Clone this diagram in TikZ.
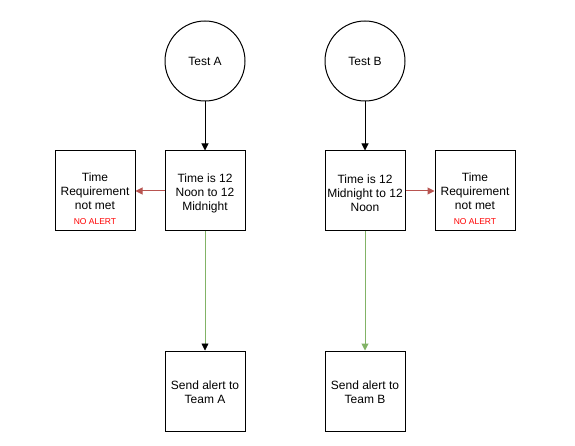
\documentclass[tikz,border=0pt]{standalone}
\usepackage{fontspec}
\setmainfont{Liberation Sans}
\usetikzlibrary{arrows.meta}
\definecolor{redline}{HTML}{B85450}
\definecolor{greenline}{HTML}{82B366}
\begin{document}
\begin{tikzpicture}[x=1pt,y=-1pt,
  every node/.style={font=\fontsize{12}{14}\selectfont, align=center, inner sep=0pt},
  boxnode/.style={draw=black, line width=1pt, minimum width=80pt, minimum height=80pt},
  circnode/.style={draw=black, line width=1pt, circle, minimum size=80pt},
  arr/.style={line width=1pt, -{Triangle[width=7pt,length=7pt]}}]
\useasboundingbox[fill=white] (0,0) rectangle (575,446);
\node[circnode] (ta) at (205,61) {Test A};
\node[circnode] (tb) at (365,61) {Test B};
\node[boxnode] (ca) at (205,191) {};
\node (cat) at (205,193) {Time is 12\\Noon to 12\\Midnight};
\node[boxnode] (cb) at (365,191) {};
\node (cbt) at (365,193) {Time is 12\\Midnight to 12\\Noon};
\node[boxnode] (la) at (95,191) {};
\node (lat) at (95,199) {Time\\Requirement\\not met\\[1pt]{\fontsize{8.5}{10}\selectfont\color{red}NO ALERT}};
\node[boxnode] (rb) at (475,191) {};
\node (rbt) at (475,199) {Time\\Requirement\\not met\\[1pt]{\fontsize{8.5}{10}\selectfont\color{red}NO ALERT}};
\node[boxnode] (sa) at (205,391) {};
\node (sat) at (205,392.5) {Send alert to\\Team A};
\node[boxnode] (sb) at (365,391) {};
\node (sbt) at (365,392.5) {Send alert to\\Team B};
\draw[arr] (ta) -- (ca);
\draw[arr] (tb) -- (cb);
\draw[arr, draw=redline] (ca) -- (la);
\draw[arr, draw=redline] (cb) -- (rb);
\draw[draw=greenline, line width=0.8pt, -{Triangle[width=7pt,length=7pt,color=black]}] (ca) -- (sa);
\draw[draw=greenline, line width=1pt, -{Triangle[width=7pt,length=7pt]}] (cb) -- (sb);
\end{tikzpicture}
\end{document}
